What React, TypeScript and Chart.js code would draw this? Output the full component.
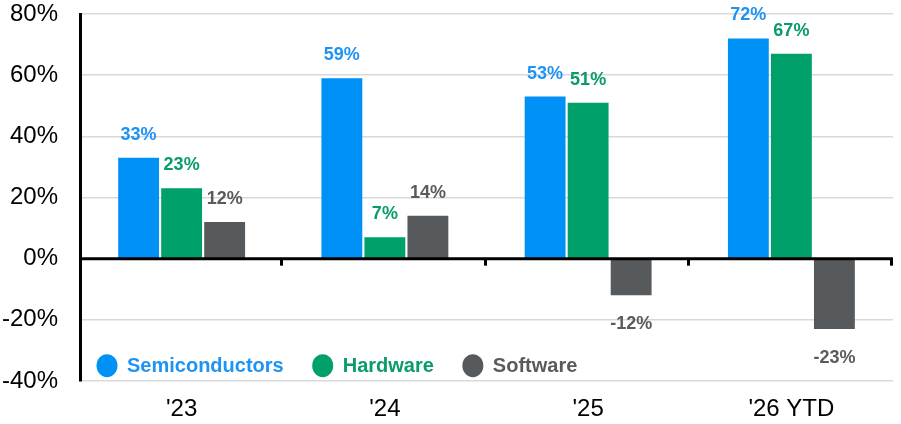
import { useEffect, useRef } from "react"
import { Chart, type ChartConfiguration, type Plugin, registerables } from "chart.js"

Chart.register(...registerables)

const years = ["'23", "'24", "'25", "'26 YTD"]
const semiconductors = [33, 59, 53, 72]
const hardware = [23, 7, 51, 67]
const software = [12, 14, -12, -23]
const yTicks = [-40, -20, 0, 20, 40, 60, 80]

const FONT = "'Liberation Sans', Arial, Helvetica, sans-serif"

const barColors = ["#0091F7", "#00A06A", "#575A5D"]
const textColors = ["#1F93F3", "#0A9C68", "#595B5E"]

// zero line with small ticks at the category boundaries
const zeroLine: Plugin<"bar"> = {
  id: "zeroLine",
  afterDatasetsDraw(chart) {
    const { ctx, chartArea, scales } = chart
    const y0 = scales.y.getPixelForValue(0)
    const step = (chartArea.right - chartArea.left) / years.length
    ctx.save()
    ctx.strokeStyle = "#000"
    ctx.lineWidth = 3
    ctx.beginPath()
    ctx.moveTo(chartArea.left, y0)
    ctx.lineTo(chartArea.right, y0)
    ctx.stroke()
    for (let i = 1; i <= years.length; i++) {
      const x = Math.round(chartArea.left + step * i) - 1.5
      ctx.beginPath()
      ctx.moveTo(x, y0)
      ctx.lineTo(x, y0 + 7)
      ctx.stroke()
    }
    ctx.restore()
  },
}

// percent labels above / below every bar
const valueLabels: Plugin<"bar"> = {
  id: "valueLabels",
  afterDatasetsDraw(chart) {
    const { ctx } = chart
    ctx.save()
    ctx.font = `bold 18px ${FONT}`
    ctx.textAlign = "center"
    ctx.textBaseline = "middle"
    chart.data.datasets.forEach((ds, di) => {
      const meta = chart.getDatasetMeta(di)
      ctx.fillStyle = textColors[di]
      meta.data.forEach((bar: any, i) => {
        const v = ds.data[i] as number
        const y = v >= 0 ? bar.y - 23 : bar.y + 29
        ctx.fillText(`${v}%`, bar.x, y)
      })
    })
    ctx.restore()
  },
}

// legend drawn inside the plot, bottom left
const insideLegend: Plugin<"bar"> = {
  id: "insideLegend",
  afterDraw(chart) {
    const { ctx, chartArea, scales } = chart
    const y = scales.y.getPixelForValue(-35)
    let x = chartArea.left + 27
    ctx.save()
    ctx.font = `bold 20px ${FONT}`
    ctx.textBaseline = "middle"
    ctx.textAlign = "left"
    chart.data.datasets.forEach((ds, di) => {
      ctx.fillStyle = barColors[di]
      ctx.beginPath()
      ctx.ellipse(x, y, 10.5, 11.5, 0, 0, Math.PI * 2)
      ctx.fill()
      ctx.fillStyle = textColors[di]
      const label = ds.label as string
      ctx.fillText(label, x + 20, y + 1)
      x += 20 + ctx.measureText(label).width + 39
    })
    ctx.restore()
  },
}

export default function App() {
  const chartRef = useRef<HTMLCanvasElement>(null)
  const chartInstance = useRef<Chart | null>(null)

  useEffect(() => {
    document.body.style.margin = "0"
    if (!chartRef.current) return
    if (chartInstance.current) chartInstance.current.destroy()
    const ctx = chartRef.current.getContext("2d")
    if (!ctx) return

    const config: ChartConfiguration<"bar"> = {
      type: "bar",
      data: {
        labels: years,
        datasets: [
          { label: "Semiconductors", data: semiconductors, backgroundColor: barColors[0] },
          { label: "Hardware", data: hardware, backgroundColor: barColors[1] },
          { label: "Software", data: software, backgroundColor: barColors[2] },
        ],
      },
      options: {
        responsive: false,
        animation: false,
        layout: { padding: { left: 2, right: 8, top: 14, bottom: 0 } },
        datasets: {
          bar: { categoryPercentage: 0.635, barPercentage: 0.95 },
        },
        scales: {
          x: {
            grid: { display: false, drawTicks: false },
            border: { display: false },
            ticks: { color: "#000", font: { family: FONT, size: 24 }, padding: 14 },
            afterFit: (scale: any) => {
              scale.height = 43
              scale.paddingLeft = 0
              scale.paddingRight = 0
            },
          },
          y: {
            min: -40,
            max: 80,
            afterBuildTicks: (scale) => {
              scale.ticks = yTicks.map((value) => ({ value }))
            },
            grid: { color: "#D9D9D9", lineWidth: 1.5, drawTicks: false },
            border: { display: true, color: "#000", width: 3 },
            ticks: {
              color: "#000",
              font: { family: FONT, size: 24 },
              padding: 22,
              callback: (value) => `${value}%`,
            },
            afterFit: (scale: any) => {
              scale.width = 78
              scale.paddingTop = 0
              scale.paddingBottom = 0
            },
          },
        },
        plugins: {
          legend: { display: false },
          tooltip: { enabled: false },
        },
      },
      plugins: [zeroLine, valueLabels, insideLegend],
    }

    chartInstance.current = new Chart(ctx, config)

    return () => {
      if (chartInstance.current) {
        chartInstance.current.destroy()
        chartInstance.current = null
      }
    }
  }, [])

  return (
    <div style={{ width: 901, height: 424 }}>
      <canvas ref={chartRef} width={901} height={424} />
    </div>
  )
}
